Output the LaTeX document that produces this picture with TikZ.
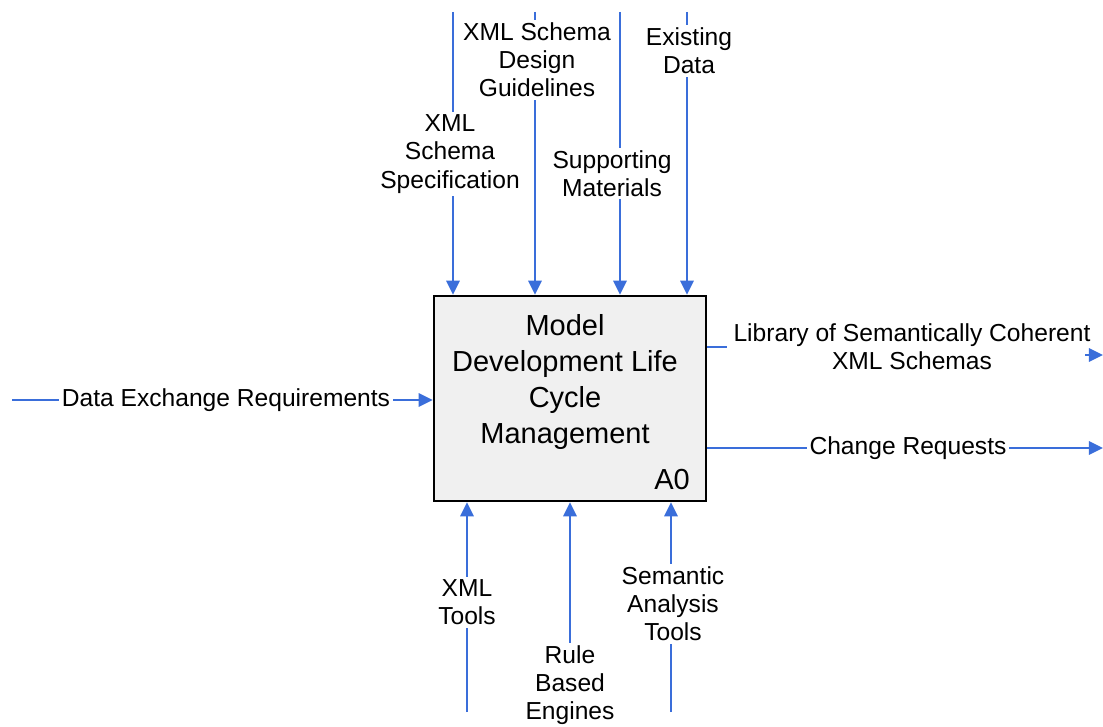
\documentclass[tikz,border=0pt]{standalone}
\usepackage{fontspec}
\setmainfont{Liberation Sans}
\usepackage{tikz}
\usetikzlibrary{arrows.meta}
\usetikzlibrary{positioning}
\definecolor{flowblue}{RGB}{58,110,218}
\tikzset{lbl/.style={fill=white, inner sep=1.5pt, align=center, font=\fontsize{14}{16}\selectfont}}
\tikzset{boxfont/.style={font=\fontsize{16.5}{20.3}\selectfont}}

\begin{document}
\begin{tikzpicture}
\tikzstyle{flowedge} = [flowblue, line width=1.3pt, -{Triangle[length=8pt, width=7.5pt]}]
\tikzstyle{flowline} = [flowblue, line width=1.3pt]
\useasboundingbox (0,0) rectangle (22.06,14.52);
\node[draw, line width=1.4pt, fill=black!6, minimum width=5.44cm, minimum height=4.1cm](box) at (11.4, 6.55){};
\node[boxfont, align=center](boxtxt) at (11.3, 6.88){Model\\Development Life\\Cycle\\Management};
\node[boxfont](boxid) at (13.44, 4.92){A0};
\coordinate (t1) at (9.06, 14.28);
\coordinate (t2) at (10.7, 14.28);
\coordinate (t3) at (12.4, 14.28);
\coordinate (t4) at (13.74, 14.28);
\coordinate (b1) at (9.34, 0.28);
\coordinate (b2) at (11.4, 0.28);
\coordinate (b3) at (13.42, 0.28);
\coordinate (in1) at (0.24, 6.52);
\coordinate (o1) at (14.54, 7.58);
\coordinate (o1a) at (21.7, 7.42);
\coordinate (o1b) at (22.06, 7.42);
\coordinate (o2) at (22.06, 5.56);
\draw[flowedge] (t1) -- (t1 |- box.north);
\draw[flowedge] (t2) -- (t2 |- box.north);
\draw[flowedge] (t3) -- (t3 |- box.north);
\draw[flowedge] (t4) -- (t4 |- box.north);
\draw[flowedge] (b1) -- (b1 |- box.south);
\draw[flowedge] (b2) -- (b2 |- box.south);
\draw[flowedge] (b3) -- (b3 |- box.south);
\draw[flowedge] (in1) -- (in1 -| box.west);
\draw[flowline] (o1 -| box.east) -- (o1);
\draw[flowedge] (o1a) -- (o1b);
\draw[flowedge] (o2 -| box.east) -- (o2);
\node[lbl](spec) at (9.0, 11.44){XML\\Schema\\Specification};
\node[lbl](guide) at (10.74, 13.32){XML Schema\\Design\\Guidelines};
\node[lbl](supp) at (12.24, 11.05){Supporting\\Materials};
\node[lbl](exist) at (13.78, 13.5){Existing\\Data};
\node[lbl](dataex) at (4.52, 6.52){Data Exchange Requirements};
\node[lbl, fill=none](lib) at (18.24, 7.58){Library of Semantically Coherent\\XML Schemas};
\node[lbl](chg) at (18.16, 5.56){Change Requests};
\node[lbl](xtools) at (9.34, 2.47){XML\\Tools};
\node[lbl](rule) at (11.4, 0.82){Rule\\Based\\Engines};
\node[lbl](sem) at (13.46, 2.44){Semantic\\Analysis\\Tools};
\end{tikzpicture}
\end{document}
